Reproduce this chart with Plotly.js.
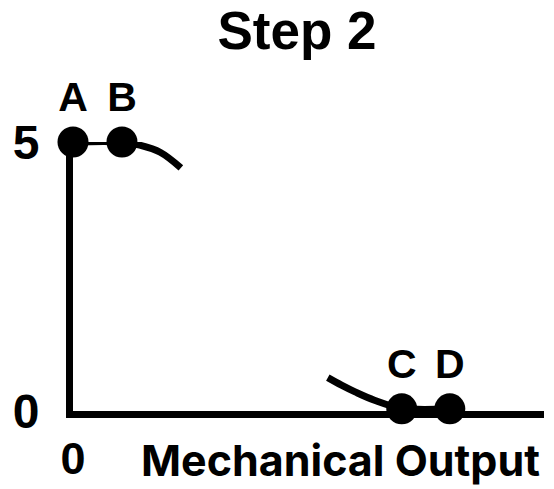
<!DOCTYPE html>
<html>
<head>
<meta charset="utf-8">
<script src="https://cdn.plot.ly/plotly-3.0.1.min.js"></script>
<style>
  html, body { margin: 0; padding: 0; background: #fff; }
  #chartplot { width: 554px; height: 489px; }
</style>
</head>
<body>
<div id="chartplot"></div>
<script>
// labelled points
const pointLabels = ['A', 'B', 'C', 'D'];
const pointX = [0, 1.04, 6.98, 8.0];
const pointY = [5, 5, 0.04, 0.04];

// upper branch: A -> B then bending down
const upperX = [0, 1.04, 1.42, 1.85, 2.29];
const upperY = [5, 5, 4.94, 4.81, 4.52];

// lower branch: coming down into C, then C -> D
const lowerX = [5.41, 5.7, 6.0, 6.4, 6.98, 8.0];
const lowerY = [0.62, 0.48, 0.35, 0.2, 0.05, 0.04];

const yTicks = [0, 5];
const xTicks = [0];
const titleText = 'Step 2';
const xTitle = 'Mechanical Output';

const FONT = 'Arial, "Liberation Sans", sans-serif';
const WIDE_FONT = 'Inter, "DejaVu Sans", sans-serif';

const data = [
  {
    type: 'scatter', mode: 'lines',
    x: upperX, y: upperY,
    line: { color: '#000', width: 7, shape: 'spline', smoothing: 1 },
    cliponaxis: false, hoverinfo: 'skip'
  },
  {
    type: 'scatter', mode: 'lines',
    x: lowerX, y: lowerY,
    line: { color: '#000', width: 7, shape: 'spline', smoothing: 1 },
    cliponaxis: false, hoverinfo: 'skip'
  },
  {
    type: 'scatter', mode: 'markers+text',
    x: pointX, y: pointY,
    text: pointLabels,
    textposition: 'top center',
    textfont: { family: FONT, size: 41, color: '#000', weight: 'bold' },
    marker: { color: '#000', size: 31 },
    cliponaxis: false
  }
];

const layout = {
  width: 554,
  height: 489,
  showlegend: false,
  paper_bgcolor: '#fff',
  plot_bgcolor: '#fff',
  margin: { l: 73, r: 10, t: 142, b: 78 },
  title: {
    text: titleText,
    font: { family: FONT, size: 53, color: '#000', weight: 'bold' },
    x: 297 / 554, xanchor: 'center',
    y: 1 - 30 / 489, yanchor: 'middle'
  },
  xaxis: {
    range: [0, 10],
    showgrid: false, zeroline: false,
    showline: true, linecolor: '#000', linewidth: 7,
    tickvals: xTicks,
    ticktext: xTicks.map(String),
    ticks: 'outside', ticklen: 2, tickcolor: 'rgba(0,0,0,0)',
    tickfont: { family: FONT, size: 45, color: '#000', weight: 'bold' },
    fixedrange: true
  },
  yaxis: {
    range: [0, 5],
    showgrid: false, zeroline: false,
    showline: true, linecolor: '#000', linewidth: 7,
    tickvals: yTicks,
    ticktext: yTicks.map(String),
    ticks: 'outside', ticklen: 17, tickcolor: 'rgba(0,0,0,0)',
    tickfont: { family: FONT, size: 48, color: '#000', weight: 'bold' },
    fixedrange: true
  },
  annotations: [
    {
      text: xTitle,
      xref: 'paper', yref: 'paper',
      x: (139 - 73) / 471, xanchor: 'left',
      y: (411 - 460) / 269, yanchor: 'middle',
      showarrow: false,
      font: { family: WIDE_FONT, size: 43, color: '#000', weight: 'bold' }
    }
  ]
};

Plotly.newPlot('chartplot', data, layout, { staticPlot: true });
</script>
</body>
</html>
